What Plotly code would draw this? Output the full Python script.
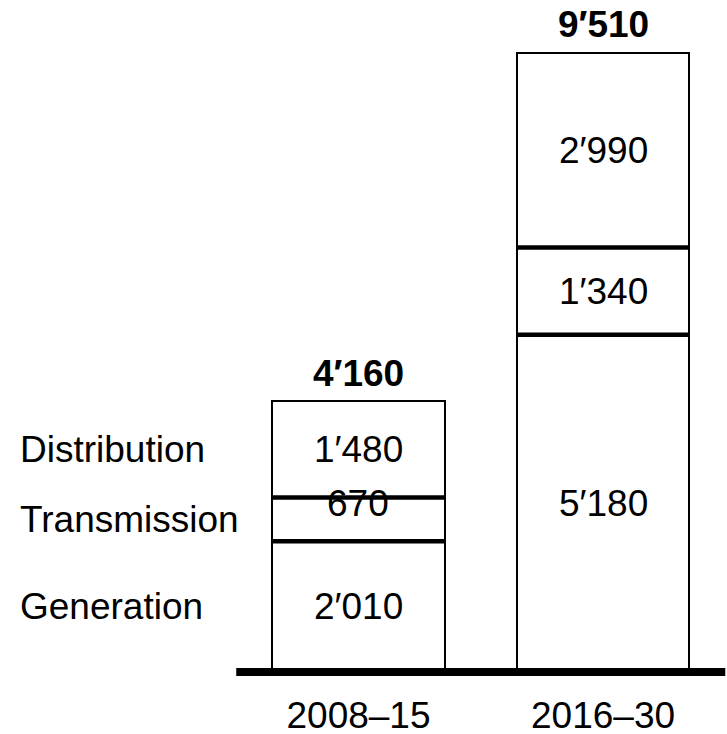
import plotly.graph_objects as go

periods = ["2008–15", "2016–30"]
segments = ["Generation", "Transmission", "Distribution"]
generation = [2010, 5180]
transmission = [670, 1340]
distribution = [1480, 2990]
totals = [4160, 9510]

series = [generation, transmission, distribution]
FONT = "Liberation Sans, Arial, sans-serif"
FS = 37
BAR_W = 0.707


def fmt(v):
    return f"{v:,}".replace(",", "\u2032")


fig = go.Figure()
for name, vals in zip(segments, series):
    fig.add_trace(go.Bar(
        x=periods, y=vals, name=name, width=BAR_W,
        marker=dict(color="white", line=dict(color="black", width=2)),
        hoverinfo="skip",
    ))

annotations = []
shapes = []
for i in range(len(periods)):
    base = 0
    for k, vals in enumerate(series):
        v = vals[i]
        mid = base + v / 2
        yshift = 16 if (k == 1 and i == 0) else 0
        annotations.append(dict(x=i, y=mid, xref="x", yref="y", text=fmt(v),
                                showarrow=False, yshift=yshift,
                                font=dict(size=FS, color="black", family=FONT)))
        base += v
        if k < len(series) - 1:
            shapes.append(dict(type="line", xref="x", yref="y",
                               x0=i - BAR_W / 2, x1=i + BAR_W / 2, y0=base, y1=base,
                               line=dict(color="black", width=4.5), layer="above"))
    annotations.append(dict(x=i, y=totals[i], xref="x", yref="y",
                            text="<b>" + fmt(totals[i]) + "</b>",
                            showarrow=False, yanchor="middle", yshift=28,
                            font=dict(size=FS, color="black", family=FONT)))

# Left-side segment names aligned to first bar's segments
base = 0
for name, vals in zip(segments, series):
    mid = base + vals[0] / 2
    base += vals[0]
    annotations.append(dict(x=-1.393, y=mid, xref="x", yref="y", text=name,
                            showarrow=False, xanchor="left",
                            font=dict(size=FS, color="black", family=FONT)))

shapes.append(dict(type="line", xref="x", yref="y", x0=-0.5, x1=1.5, y0=0, y1=0,
                   line=dict(color="black", width=8), layer="above"))

fig.update_layout(
    barmode="stack",
    width=727, height=734,
    margin=dict(l=0, r=0, t=0, b=54, autoexpand=False),
    paper_bgcolor="white", plot_bgcolor="white",
    showlegend=False,
    annotations=annotations,
    shapes=shapes,
    font=dict(family=FONT, size=FS, color="black"),
    xaxis=dict(range=[-1.466, 1.507], showgrid=False, zeroline=False, showline=False,
               ticks="", tickfont=dict(size=FS, family=FONT, color="black"),
               ticklabelstandoff=10, fixedrange=True, automargin=False),
    yaxis=dict(range=[-123, 10323], visible=False, fixedrange=True),
)

fig.write_html("out.html", config={"displayModeBar": False},
               post_script="document.body.style.margin='0';document.body.style.overflow='hidden';")
